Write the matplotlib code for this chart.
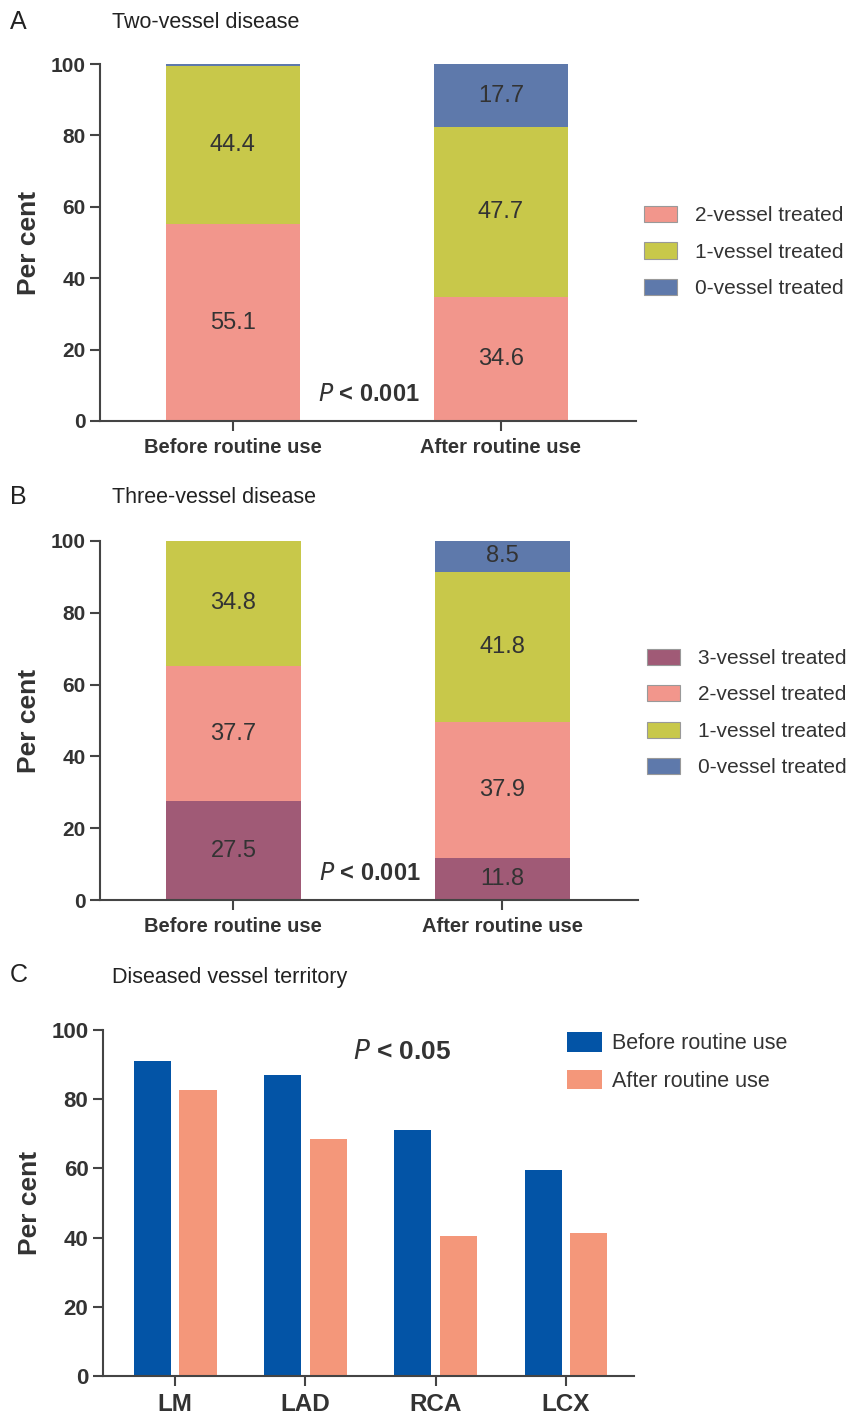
import matplotlib
matplotlib.use("Agg")
import matplotlib.pyplot as plt
import numpy as np
from matplotlib.patches import Patch

plt.rcParams['font.family'] = ['Liberation Sans', 'DejaVu Sans']

# panel A - two-vessel disease
groups = ["Before routine use", "After routine use"]
a_labels = ["2-vessel treated", "1-vessel treated", "0-vessel treated"]
a_two = [55.1, 34.6]
a_one = [44.4, 47.7]
a_zero = [0.5, 17.7]

# panel B - three-vessel disease
b_labels = ["3-vessel treated", "2-vessel treated", "1-vessel treated", "0-vessel treated"]
b_three = [27.5, 11.8]
b_two = [37.7, 37.9]
b_one = [34.8, 41.8]
b_zero = [0.0, 8.5]

# panel C - diseased vessel territory
territories = ["LM", "LAD", "RCA", "LCX"]
c_before = [91.0, 86.9, 71.1, 59.6]
c_after = [82.6, 68.5, 40.5, 41.2]

c3 = '#A05A76'
c2 = '#F2968C'
c1 = '#C8C84A'
c0 = '#5E79AB'
txt = '#333333'
spine = '#444444'

W, H = 858, 1413
fig = plt.figure(figsize=(W / 100, H / 100), dpi=100)


def box(l, t, r, b):
    return [l / W, 1 - b / H, (r - l) / W, (b - t) / H]


def style(ax, tick_fs):
    for s in ['top', 'right']:
        ax.spines[s].set_visible(False)
    for s in ['left', 'bottom']:
        ax.spines[s].set_color(spine)
        ax.spines[s].set_linewidth(1.5)
    ax.tick_params(axis='both', direction='out', length=7, width=1.5, color=spine)
    ax.set_ylim(0, 100)
    ax.set_yticks([0, 20, 40, 60, 80, 100])
    for lab in ax.get_yticklabels():
        lab.set_fontweight('bold')
        lab.set_fontsize(tick_fs)
        lab.set_color(txt)
    ax.set_ylabel("Per cent", fontsize=19, fontweight='bold', color=txt, labelpad=7)


def stacked(ax, segs, colors, labels):
    x = np.arange(len(groups))
    bottom = np.zeros(len(groups))
    handles = []
    for vals, col, lab in zip(segs, colors, labels):
        vals = np.array(vals)
        ax.bar(x, vals, 0.5, bottom=bottom, color=col, linewidth=0)
        for xi, v, b0 in zip(x, vals, bottom):
            if v >= 5:
                ax.text(xi, b0 + v / 2, f"{v:.1f}", ha='center', va='center',
                        fontsize=17, color=txt)
        bottom = bottom + vals
        handles.append(Patch(facecolor=col, edgecolor='#999999', linewidth=0.8, label=lab))
    ax.set_xlim(-0.496, 1.504)
    ax.set_xticks(x)
    ax.set_xticklabels(groups, fontsize=14.5, fontweight='bold', color=txt)
    ax.tick_params(axis='x', pad=5)
    style(ax, 15)
    ax.text(0.507, 7.5, "$\\mathit{P}$ < 0.001", fontsize=17, fontweight='bold',
            color=txt, ha='center', va='center')
    return handles


leg_kw = dict(frameon=False, fontsize=15, handlelength=1.59, handleheight=0.82,
              labelspacing=0.82, handletextpad=0.85, labelcolor=txt, borderaxespad=0)

# panel A
axA = fig.add_axes(box(100, 64, 636, 421))
hA = stacked(axA, [a_two, a_one, a_zero], [c2, c1, c0], a_labels)
fig.legend(handles=hA, loc='center left', bbox_to_anchor=(636 / W, 1 - 252 / H), **leg_kw)
fig.text(10 / W, 1 - 22 / H, "A", fontsize=18, color='#222222', va='center')
fig.text(112 / W, 1 - 22 / H, "Two-vessel disease", fontsize=15.5, color='#222222', va='center')

# panel B
axB = fig.add_axes(box(100, 541, 638, 900))
hB = stacked(axB, [b_three, b_two, b_one, b_zero], [c3, c2, c1, c0], b_labels)
fig.legend(handles=hB, loc='center left', bbox_to_anchor=(639 / W, 1 - 713 / H), **leg_kw)
fig.text(10 / W, 1 - 497 / H, "B", fontsize=18, color='#222222', va='center')
fig.text(112 / W, 1 - 497 / H, "Three-vessel disease", fontsize=15.5, color='#222222', va='center')

# panel C
axC = fig.add_axes(box(103, 1030, 634, 1376))
xc = np.arange(len(territories))
axC.bar(xc - 0.175, c_before, 0.285, color='#0354A6', label="Before routine use", linewidth=0)
axC.bar(xc + 0.175, c_after, 0.285, color='#F4977A', label="After routine use", linewidth=0)
axC.set_xlim(-0.554, 3.523)
axC.set_xticks(xc)
axC.set_xticklabels(territories, fontsize=17.5, fontweight='bold', color=txt)
axC.tick_params(axis='x', pad=5)
style(axC, 16)
axC.text(1.74, 93.6, "$\\mathit{P}$ < 0.05", fontsize=19, fontweight='bold',
         color=txt, ha='center', va='center')
hC, lC = axC.get_legend_handles_labels()
fig.legend(hC, lC, loc='center left', bbox_to_anchor=(558 / W, 1 - 1062 / H),
           frameon=False, fontsize=15.5, handlelength=1.63, handleheight=1.0,
           labelspacing=0.72, handletextpad=0.47, labelcolor=txt, borderaxespad=0)
fig.text(10 / W, 1 - 975 / H, "C", fontsize=18, color='#222222', va='center')
fig.text(112 / W, 1 - 977 / H, "Diseased vessel territory", fontsize=15.5, color='#222222', va='center')

fig.savefig("out.png", dpi=100)
